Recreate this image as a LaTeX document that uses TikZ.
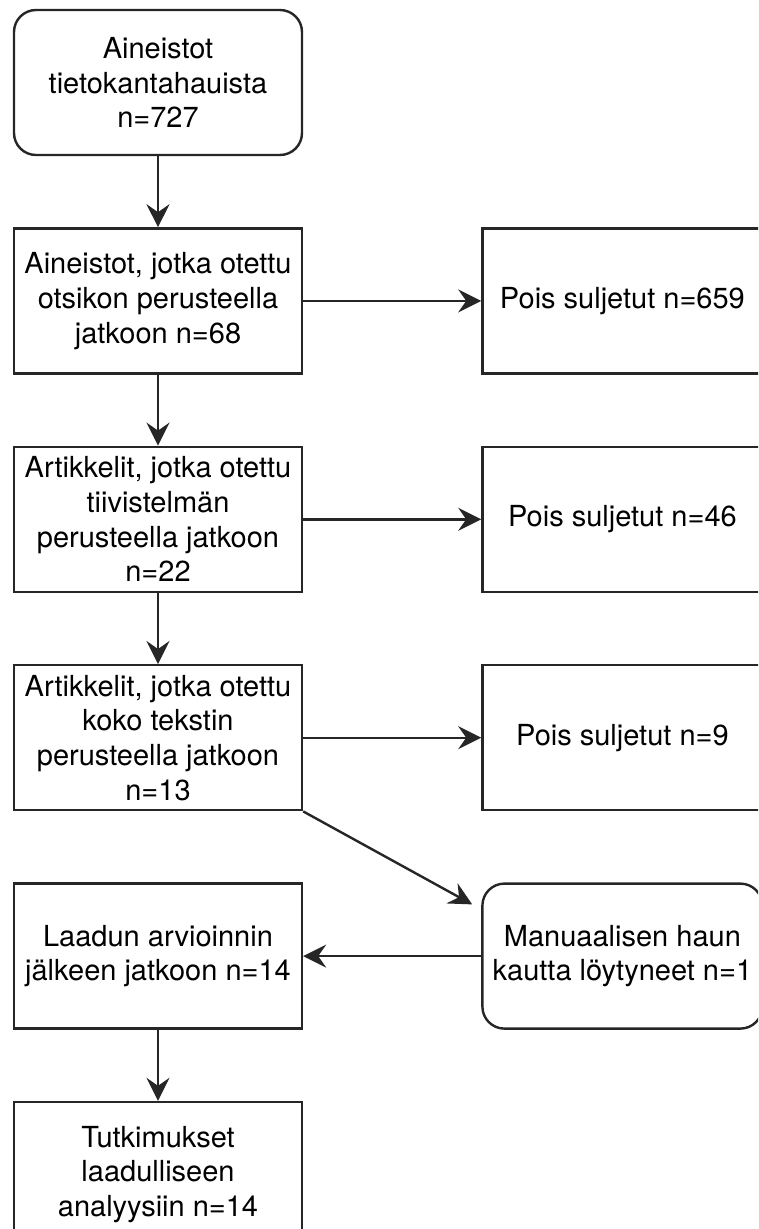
\documentclass[tikz,border=0pt]{standalone}
\usepackage{fontspec}
\setmainfont{TeX Gyre Heros}
\usetikzlibrary{positioning, arrows.meta}

\begin{document}
\begin{tikzpicture}[x=1pt, y=-1pt, node distance=71pt and 178pt, >={Stealth[length=23pt, width=23pt, inset=8pt]},
        line width=2.4pt, draw=black!85,
        box/.style = {draw, rectangle, align=center, minimum height=145pt, minimum width=288pt, inner sep=0pt,
            font=\fontsize{29}{34.7}\selectfont},
        startbox/.style = {box, rounded corners=22pt},
        outbox/.style = {box, minimum width=280pt},
        ]
        \clip (0,0) rectangle (758,1229);
        \node [startbox] at (158,82.5) (haku) {Aineistot\\tietokantahauista\\n=727};
        \node [box, below=of haku] (otsikko) {Aineistot, jotka otettu\\otsikon perusteella\\jatkoon n=68};
        \node [outbox, right=of otsikko] (pois1) {Pois suljetut n=659};
        \node [box, below=of otsikko] (tiivis) {Artikkelit, jotka otettu\\tiivistelmän\\perusteella jatkoon\\n=22};
        \node [outbox, right=of tiivis] (pois2) {Pois suljetut n=46};
        \node [box, below=of tiivis] (teksti) {Artikkelit, jotka otettu\\koko tekstin\\perusteella jatkoon\\n=13};
        \node [outbox, right=of teksti] (pois3) {Pois suljetut n=9};
        \node [box, below=of teksti] (laatu) {Laadun arvioinnin\\jälkeen jatkoon n=14};
        \node [outbox, rounded corners=22pt, right=of laatu] (manuaali) {Manuaalisen haun\\kautta löytyneet n=1};
        \node [box, below=of laatu] (tutkimus) {Tutkimukset\\laadulliseen\\analyysiin n=14};
        \coordinate (kulma) at ([xshift=-9pt, yshift=-22pt]manuaali.north west);

        \draw [->] (haku) -- (otsikko);
        \draw [->] (otsikko) -- (pois1);
        \draw [->] (otsikko) -- (tiivis);
        \draw [->] (tiivis) -- (pois2);
        \draw [->] (tiivis) -- (teksti);
        \draw [->] (teksti) -- (pois3);
        \draw [->] (teksti.south east) -- (kulma);
        \draw [->] (manuaali) -- (laatu);
        \draw [->] (laatu) -- (tutkimus);
    \end{tikzpicture}
\end{document}
